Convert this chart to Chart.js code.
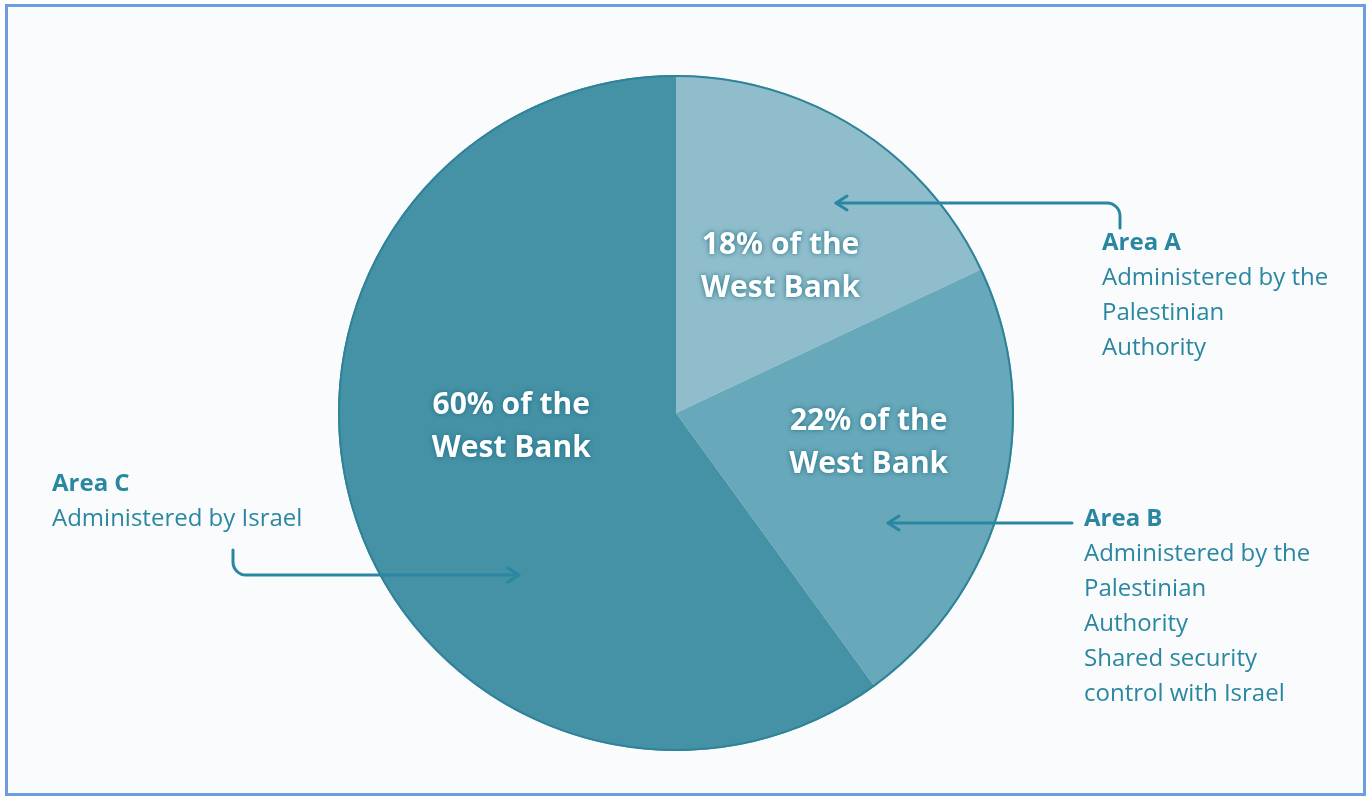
<!DOCTYPE html>
<html>
<head>
<meta charset="utf-8">
<script src="https://cdn.jsdelivr.net/npm/chart.js@4.4.1/dist/chart.umd.min.js"></script>
<style>
    html, body { margin: 0; padding: 0; background: #ffffff; width: 1369px; height: 797px; overflow: hidden; }
    #frame {
        position: absolute; left: 5px; top: 4px; width: 1355px; height: 786px;
        border: 3px solid #6c9de0; background: #fafbfc;
    }
    #wrap { position: absolute; left: 0; top: 0; width: 1369px; height: 797px; }
</style>
</head>
<body>
<div id="frame"></div>
<div id="wrap"><canvas id="pie" width="1369" height="797"></canvas></div>
<script>
/* Zonas de Cisjordania según los Acuerdos de Oslo */
const AREAS = ["Area A", "Area B", "Area C"];
const SHARES = [18, 22, 60];
const SLICE_TEXT = [
    ["18% of the", "West Bank"],
    ["22% of the", "West Bank"],
    ["60% of the", "West Bank"],
];
const NOTES = [
    ["Administered by the", "Palestinian", "Authority"],
    ["Administered by the", "Palestinian", "Authority", "Shared security", "control with Israel"],
    ["Administered by Israel"],
];

const COLORS = {
    a: "#8fbdcb",
    b: "#67a8ba",
    c: "#4591a6",
    edge: "#2f8399",
    ink: "#2a87a1",
    glow: "#1f6f85",
};
const FONT = "'Open Sans', sans-serif";

// desplazamiento del texto interior respecto al centro de cada porción
const TEXT_NUDGE = [[14, -3], [29, -12], [-4, -38]];

const overlay = {
    id: "overlay",
    afterDatasetsDraw(chart) {
        const { ctx } = chart;
        const arcs = chart.getDatasetMeta(0).data;
        const first = arcs[0];

        // contorno exterior
        ctx.save();
        ctx.beginPath();
        ctx.arc(first.x, first.y, first.outerRadius - 1, 0, Math.PI * 2);
        ctx.lineWidth = 2;
        ctx.strokeStyle = COLORS.edge;
        ctx.stroke();
        ctx.restore();

        // texto dentro de cada porción
        ctx.save();
        ctx.font = `bold 30px ${FONT}`;
        ctx.textAlign = "center";
        ctx.textBaseline = "middle";
        ctx.fillStyle = "#ffffff";
        ctx.shadowColor = COLORS.glow;
        ctx.shadowBlur = 5;
        arcs.forEach((arc, i) => {
            const p = arc.getCenterPoint();
            const x = p.x + TEXT_NUDGE[i][0];
            const y = p.y + TEXT_NUDGE[i][1];
            SLICE_TEXT[i].forEach((line, k) => {
                ctx.fillText(line, x, y + (k - 0.5) * 43);
            });
        });
        ctx.restore();
    },
    afterDraw(chart) {
        const { ctx } = chart;
        ctx.save();

        // etiquetas laterales
        const notePos = [[1102, 243], [1084, 519], [52, 484]];
        ctx.fillStyle = COLORS.ink;
        ctx.textAlign = "left";
        ctx.textBaseline = "middle";
        AREAS.forEach((name, i) => {
            const [x, y] = notePos[i];
            ctx.font = `bold 24px ${FONT}`;
            ctx.fillText(name, x, y);
            ctx.font = `24px ${FONT}`;
            NOTES[i].forEach((line, k) => ctx.fillText(line, x, y + 35 * (k + 1)));
        });

        // flechas
        ctx.strokeStyle = COLORS.ink;
        ctx.lineWidth = 3;
        ctx.lineCap = "round";
        ctx.lineJoin = "round";
        const head = (x, y, dir) => {
            ctx.beginPath();
            ctx.moveTo(x + dir * 11, y - 7);
            ctx.lineTo(x, y);
            ctx.lineTo(x + dir * 11, y + 7);
            ctx.stroke();
        };

        // Area A
        ctx.beginPath();
        ctx.moveTo(1120, 228);
        ctx.arcTo(1120, 203, 1100, 203, 13);
        ctx.lineTo(836, 203);
        ctx.stroke();
        head(836, 203, 1);

        // Area B
        ctx.beginPath();
        ctx.moveTo(1072, 523);
        ctx.lineTo(888, 523);
        ctx.stroke();
        head(888, 523, 1);

        // Area C
        ctx.beginPath();
        ctx.moveTo(233, 550);
        ctx.arcTo(233, 575, 253, 575, 13);
        ctx.lineTo(519, 575);
        ctx.stroke();
        head(519, 575, -1);

        ctx.restore();
    },
};

new Chart(document.getElementById("pie").getContext("2d"), {
    type: "pie",
    data: {
        labels: AREAS,
        datasets: [{
            data: SHARES,
            backgroundColor: [COLORS.a, COLORS.b, COLORS.c],
            borderWidth: 0,
        }],
    },
    options: {
        responsive: false,
        animation: false,
        layout: { padding: { top: 75, bottom: 46, left: 300, right: 317 } },
        plugins: {
            legend: { display: false },
            tooltip: { enabled: false },
        },
    },
    plugins: [overlay],
});
</script>
</body>
</html>
